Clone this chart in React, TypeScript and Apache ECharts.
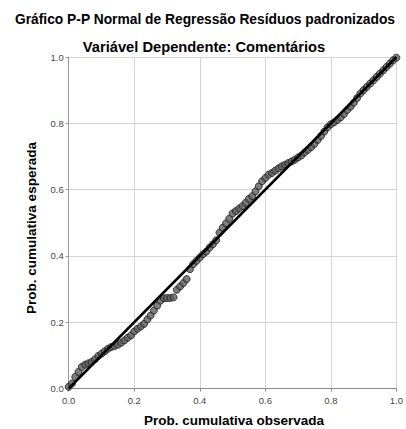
import React, { useEffect, useRef } from "react";
import * as echarts from "echarts";

const titleText = "Gráfico P-P Normal de Regressão Resíduos padronizados";
const subtitleText = "Variável Dependente: Comentários";
const xAxisTitle = "Prob. cumulativa observada";
const yAxisTitle = "Prob. cumulativa esperada";

const observedProb = [
  0.0, 0.01, 0.02, 0.03, 0.04, 0.05, 0.06, 0.07, 0.08, 0.09,
  0.1, 0.11, 0.12, 0.13, 0.14, 0.15, 0.16, 0.17, 0.18, 0.19,
  0.2, 0.21, 0.22, 0.23, 0.24, 0.25, 0.26, 0.27, 0.28, 0.29,
  0.3, 0.31, 0.32, 0.33, 0.34, 0.35, 0.36, 0.37, 0.38, 0.39,
  0.4, 0.41, 0.42, 0.43, 0.44, 0.45, 0.46, 0.47, 0.48, 0.49,
  0.5, 0.51, 0.52, 0.53, 0.54, 0.55, 0.56, 0.57, 0.58, 0.59,
  0.6, 0.61, 0.62, 0.63, 0.64, 0.65, 0.66, 0.67, 0.68, 0.69,
  0.7, 0.71, 0.72, 0.73, 0.74, 0.75, 0.76, 0.77, 0.78, 0.79,
  0.8, 0.81, 0.82, 0.83, 0.84, 0.85, 0.86, 0.87, 0.88, 0.89,
  0.9, 0.91, 0.92, 0.93, 0.94, 0.95, 0.96, 0.97, 0.98, 0.99, 1.0,
];

const expectedProb = [
  0.005, 0.015, 0.035, 0.05, 0.065, 0.072, 0.076, 0.08, 0.088, 0.098,
  0.105, 0.112, 0.12, 0.125, 0.128, 0.132, 0.138, 0.145, 0.153, 0.16,
  0.172, 0.18, 0.187, 0.195, 0.208, 0.22, 0.235, 0.25, 0.265, 0.272,
  0.273, 0.273, 0.275, 0.298, 0.308, 0.318, 0.33, 0.36, 0.375, 0.385,
  0.395, 0.405, 0.413, 0.425, 0.435, 0.447, 0.47, 0.485, 0.498, 0.512,
  0.528, 0.535, 0.543, 0.55, 0.56, 0.572, 0.58, 0.595, 0.61, 0.625,
  0.635, 0.645, 0.65, 0.657, 0.664, 0.67, 0.675, 0.68, 0.685, 0.69,
  0.697, 0.703, 0.712, 0.72, 0.728, 0.738, 0.75, 0.762, 0.775, 0.788,
  0.797, 0.803, 0.81, 0.818, 0.828, 0.84, 0.85, 0.862, 0.876, 0.89,
  0.9, 0.91, 0.92, 0.93, 0.94, 0.95, 0.96, 0.97, 0.98, 0.99, 0.998,
];

const refLineX = [0, 1];
const refLineY = [0, 1];

export default function App() {
  const ref = useRef<HTMLDivElement>(null);
  useEffect(() => {
    if (!ref.current) return;
    const chart = echarts.init(ref.current, null, { renderer: "svg" });
    const font = "Arial, 'Liberation Sans', sans-serif";
    const boldText = (size: number) => ({
      fontSize: size,
      fontWeight: "bold",
      fill: "#000000",
      fontFamily: font,
      align: "center",
      verticalAlign: "middle",
    });
    chart.setOption({
      animation: false,
      backgroundColor: "#ffffff",
      textStyle: { fontFamily: font },
      graphic: [
        { type: "text", x: 205, y: 19, style: { text: titleText, ...boldText(13.8) } },
        { type: "text", x: 204, y: 47, style: { text: subtitleText, ...boldText(14.7) } },
        { type: "text", x: 234, y: 420.5, style: { text: xAxisTitle, ...boldText(13.5) } },
        {
          type: "text",
          x: 31,
          y: 228,
          rotation: Math.PI / 2,
          style: { text: yAxisTitle, ...boldText(13.5) },
        },
      ],
      grid: { left: 68.7, top: 57, width: 331.5, height: 331.5, containLabel: false },
      xAxis: {
        type: "value",
        min: 0,
        max: 1,
        interval: 0.2,
        axisLine: { show: true, lineStyle: { color: "#888888", width: 1 } },
        axisTick: { show: true, length: 3, lineStyle: { color: "#888888" } },
        axisLabel: {
          fontSize: 9.5,
          color: "#444444",
          margin: 7,
          formatter: (v: number) => v.toFixed(1),
        },
        splitLine: { show: true, lineStyle: { color: "#d4d4d4", width: 1 } },
      },
      yAxis: {
        type: "value",
        min: 0,
        max: 1,
        interval: 0.2,
        axisLine: { show: true, lineStyle: { color: "#999999", width: 1 } },
        axisTick: { show: true, length: 3, lineStyle: { color: "#999999" } },
        axisLabel: {
          fontSize: 9.5,
          color: "#444444",
          margin: 5,
          formatter: (v: number) => v.toFixed(1),
        },
        splitLine: { show: true, lineStyle: { color: "#d4d4d4", width: 1 } },
      },
      series: [
        {
          type: "scatter",
          data: observedProb.map((x, i) => [x, expectedProb[i]]),
          symbol: "circle",
          symbolSize: 7,
          itemStyle: { color: "#5e5e5e", borderColor: "#1a1a1a", borderWidth: 1 },
          z: 2,
        },
        {
          type: "line",
          data: refLineX.map((x, i) => [x, refLineY[i]]),
          symbol: "none",
          lineStyle: { color: "#000000", width: 2.5 },
          z: 3,
        },
      ],
    });
    return () => chart.dispose();
  }, []);
  return (
    <div
      ref={ref}
      style={{ position: "fixed", left: 0, top: 0, width: 406, height: 429 }}
    />
  );
}
